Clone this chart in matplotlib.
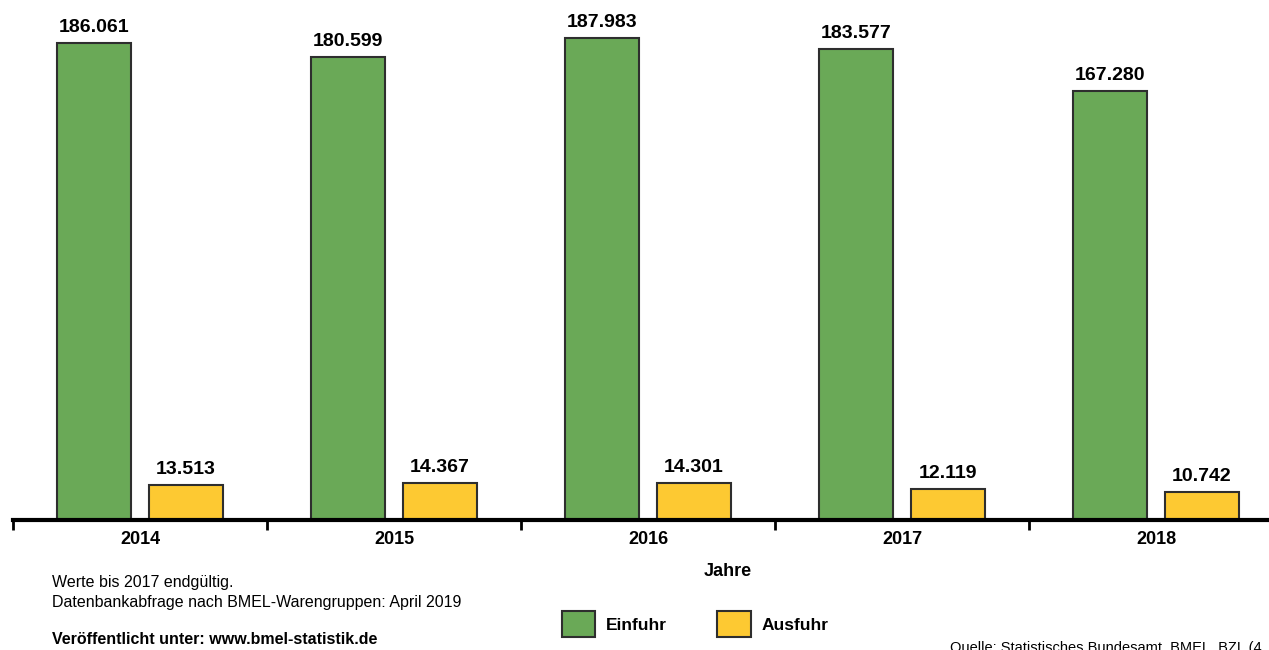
'''
Einfuhr und Ausfuhr je Jahr, Balkendiagramm
'''

import numpy as np
import matplotlib.pyplot as plt

plt.rcParams['font.family'] = ['Liberation Sans', 'DejaVu Sans']

# data
years = ["2014", "2015", "2016", "2017", "2018"]
einfuhr = [186061, 180599, 187983, 183577, 167280]
ausfuhr = [13513, 14367, 14301, 12119, 10742]


def fmt(v):
    return f"{v:,}".replace(",", ".")


green = "#6aa957"
yellow = "#fdc932"
edge = "#2e2e2e"

fig = plt.figure(figsize=(12.69, 6.5), dpi=100)
ax = fig.add_axes([13 / 1269, 130 / 650, 1 - 13 / 1269, 513 / 650])

x = np.arange(len(years))
w = 0.29
b1 = ax.bar(x - 0.182, einfuhr, w, color=green, edgecolor=edge, linewidth=1.5, label="Einfuhr")
b2 = ax.bar(x + 0.18, ausfuhr, w, color=yellow, edgecolor=edge, linewidth=1.5, label="Ausfuhr")

for bars, vals in [(b1, einfuhr), (b2, ausfuhr)]:
    for r, v in zip(bars, vals):
        ax.text(r.get_x() + r.get_width() / 2, v + 2800, fmt(v),
                ha="center", va="bottom", fontsize=14, fontweight="bold")

for s in ["top", "right", "left"]:
    ax.spines[s].set_visible(False)
ax.spines["bottom"].set_linewidth(3)
ax.set_yticks([])

# ticks between categories, labels centred
ax.set_xticks(np.arange(len(years) + 1) - 0.5)
ax.set_xticklabels([])
ax.tick_params(axis="x", length=7, width=2, color="black")
for i, y in enumerate(years):
    ax.text(i, -4200, y, ha="center", va="top", fontsize=13, fontweight="bold")

ax.set_xlim(-0.5, -0.5 + 1256 / 254)
ax.set_ylim(0, 200000)

fig.text(728 / 1269, 1 - 572 / 650, "Jahre", ha="center", va="center",
         fontsize=13, fontweight="bold")

fig.text(52 / 1269, 1 - 582 / 650, "Werte bis 2017 endgültig.", ha="left", va="center", fontsize=11.5)
fig.text(52 / 1269, 1 - 602 / 650, "Datenbankabfrage nach BMEL-Warengruppen: April 2019",
         ha="left", va="center", fontsize=11.5)
fig.text(52 / 1269, 1 - 640 / 650, "Veröffentlicht unter: www.bmel-statistik.de",
         ha="left", va="center", fontsize=11.5, fontweight="bold")
fig.text(950 / 1269, 1 - 648 / 650, "Quelle: Statistisches Bundesamt, BMEL, BZL (4",
         ha="left", va="center", fontsize=10.5)

leg = fig.legend(handles=[b1, b2], loc="center left", bbox_to_anchor=(546 / 1269, 1 - 624 / 650),
                 ncol=2, frameon=False, handlelength=1.95, handleheight=1.95,
                 handletextpad=0.6, columnspacing=2.9,
                 prop={"weight": "bold", "size": 12.5})

fig.savefig("out.png", dpi=100)
